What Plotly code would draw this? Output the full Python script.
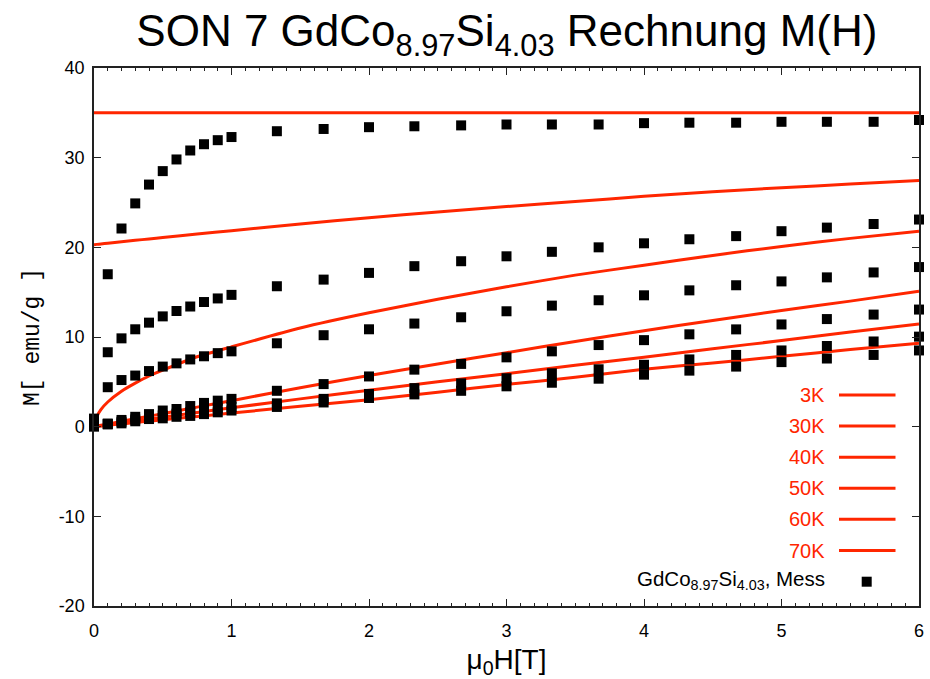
import plotly.graph_objects as go

# ---- measured magnetisation M(H), one list per temperature ----
H_mess = [0, 0.1, 0.2, 0.3, 0.4, 0.5, 0.6, 0.7, 0.8, 0.9, 1.0, 1.33, 1.67,
          2.0, 2.33, 2.67, 3.0, 3.33, 3.67, 4.0, 4.33, 4.67, 5.0, 5.33, 5.67, 6.0]

M_mess_3K = [0.9, 17.0, 22.1, 24.9, 27.0, 28.5, 29.8, 30.8, 31.5, 31.95, 32.3, 32.95, 33.2,
             33.4, 33.5, 33.6, 33.7, 33.7, 33.7, 33.85, 33.9, 33.9, 34.0, 34.0, 34.0, 34.2]
M_mess_30K = [0.6, 8.3, 9.85, 10.86, 11.6, 12.3, 12.9, 13.4, 13.9, 14.3, 14.7, 15.66, 16.4,
              17.15, 17.9, 18.45, 19.0, 19.5, 20.0, 20.45, 20.9, 21.25, 21.8, 22.2, 22.6, 23.1]
M_mess_40K = [0.4, 4.4, 5.2, 5.7, 6.2, 6.7, 7.06, 7.5, 7.85, 8.2, 8.4, 9.3, 10.2,
              10.86, 11.5, 12.2, 12.87, 13.5, 14.1, 14.65, 15.2, 15.77, 16.2, 16.65, 17.2, 17.8]
M_mess_50K = [0.2, 0.35, 0.75, 1.1, 1.4, 1.8, 1.97, 2.3, 2.65, 2.9, 3.1, 4.0, 4.75,
              5.6, 6.36, 7.0, 7.73, 8.4, 9.1, 9.65, 10.3, 10.85, 11.4, 12.0, 12.5, 13.06]
M_mess_60K = [0.1, 0.3, 0.55, 0.8, 1.05, 1.25, 1.45, 1.6, 1.85, 2.05, 2.2, 2.6, 3.1,
              3.65, 4.3, 4.83, 5.4, 5.95, 6.4, 6.9, 7.5, 8.0, 8.5, 9.0, 9.5, 10.04]
M_mess_70K = [0.0, 0.25, 0.37, 0.6, 0.85, 0.93, 1.1, 1.2, 1.4, 1.6, 1.8, 2.2, 2.7,
              3.2, 3.6, 4.0, 4.5, 4.9, 5.35, 5.8, 6.25, 6.7, 7.2, 7.6, 8.0, 8.5]

# ---- calculated curves (Rechnung) ----
H_calc = [0, 0.02, 0.05, 0.1, 0.2, 0.3, 0.4, 0.5, 0.75, 1.0, 1.5, 2.0, 2.5, 3.0, 3.5,
          4.0, 4.5, 5.0, 5.5, 6.0]

M_calc_3K = [35.0] * len(H_calc)
M_calc_30K = [20.3, 20.33, 20.38, 20.46, 20.62, 20.78, 20.94, 21.1, 21.48, 21.85, 22.6, 23.3,
              23.95, 24.55, 25.1, 25.7, 26.2, 26.65, 27.05, 27.45]
M_calc_40K = [0.0, 1.1, 1.9, 2.75, 3.95, 4.85, 5.65, 6.3, 7.8, 8.9, 11.0, 12.7,
              14.2, 15.6, 16.9, 18.0, 19.1, 20.1, 21.0, 21.8]
M_calc_50K = [0.0, 0.06, 0.15, 0.3, 0.6, 0.88, 1.17, 1.45, 2.18, 2.9, 4.35, 5.7,
              7.0, 8.25, 9.5, 10.7, 11.85, 12.95, 14.0, 15.1]
M_calc_60K = [0.0, 0.04, 0.1, 0.21, 0.42, 0.63, 0.84, 1.05, 1.58, 2.1, 3.1, 4.05,
              5.0, 5.9, 6.85, 7.75, 8.7, 9.6, 10.55, 11.45]
M_calc_70K = [0.0, 0.03, 0.08, 0.16, 0.31, 0.46, 0.61, 0.76, 1.14, 1.52, 2.27, 3.0,
              3.85, 4.7, 5.5, 6.4, 7.1, 7.85, 8.6, 9.3]

temps = ["3K", "30K", "40K", "50K", "60K", "70K"]
calc = [M_calc_3K, M_calc_30K, M_calc_40K, M_calc_50K, M_calc_60K, M_calc_70K]
mess = [M_mess_3K, M_mess_30K, M_mess_40K, M_mess_50K, M_mess_60K, M_mess_70K]

mess_label = "GdCo<sub>8.97</sub>Si<sub>4.03</sub>, Mess"
x_ticks = [0, 1, 2, 3, 4, 5, 6]
y_ticks = [-20, -10, 0, 10, 20, 30, 40]

RED = "rgb(255,38,0)"
SANS = "Liberation Sans, Arial, sans-serif"

W, H = 930, 679
ML, MR, MT, MB = 94, 11, 68, 73

fig = go.Figure()

for t, m in zip(temps, calc):
    fig.add_trace(go.Scatter(x=H_calc, y=m, mode="lines", name=t,
                             line=dict(color=RED, width=3, shape="spline", smoothing=0.6),
                             showlegend=False))

for t, m in zip(temps, mess):
    fig.add_trace(go.Scatter(x=H_mess, y=m, mode="markers", name="Mess " + t,
                             marker=dict(symbol="square", size=10, color="black",
                                         line=dict(width=0)),
                             cliponaxis=False, showlegend=False))

# hand-made key: label on the left, sample on the right
pw, ph = W - ML - MR, H - MT - MB


def px_x(p):
    return (p - ML) / pw


def px_y(p):
    return (H - MB - p) / ph


annotations = []
shapes = []
row_y = [395, 426, 457.3, 488.3, 519.3, 550.5]
for t, yy in zip(temps, row_y):
    annotations.append(dict(text=t, x=px_x(827), y=px_y(yy), xref="paper", yref="paper",
                            xanchor="right", yanchor="middle", showarrow=False,
                            font=dict(family=SANS, size=20, color=RED)))
    shapes.append(dict(type="line", xref="paper", yref="paper",
                       x0=px_x(839), x1=px_x(895.5), y0=px_y(yy), y1=px_y(yy),
                       line=dict(color=RED, width=3)))
annotations.append(dict(text=mess_label, x=px_x(827), y=px_y(580), xref="paper", yref="paper",
                        xanchor="right", yanchor="middle", showarrow=False,
                        font=dict(family=SANS, size=20.5, color="black")))
shapes.append(dict(type="rect", xref="paper", yref="paper",
                   x0=px_x(861.7), x1=px_x(871.7), y0=px_y(586.7), y1=px_y(576.7),
                   fillcolor="black", line=dict(width=0)))

axis_common = dict(showline=True, linecolor="#222", linewidth=1.5, mirror="allticks",
                   ticks="inside", ticklen=7, tickwidth=1, tickcolor="#222",
                   showgrid=False, zeroline=False, automargin=False,
                   tickfont=dict(family=SANS, size=18, color="black"))

fig.update_layout(
    width=W, height=H,
    margin=dict(l=ML, r=MR, t=MT, b=MB, autoexpand=False),
    paper_bgcolor="white", plot_bgcolor="white",
    title=dict(text="SON 7 GdCo<sub>8.97</sub>Si<sub>4.03</sub> Rechnung M(H)",
               x=0.545, xanchor="center", y=0.977, yanchor="top", automargin=False,
               font=dict(family=SANS, size=44, color="black")),
    xaxis=dict(range=[0, 6], tickvals=x_ticks, ticklabelstandoff=8,
               minor=dict(dtick=0.1, ticks="inside", ticklen=3.5, tickcolor="#222"),
               title=dict(text="μ<sub>0</sub>H[T]", standoff=12,
                          font=dict(family=SANS, size=28, color="black")),
               **axis_common),
    yaxis=dict(range=[-20, 40], tickvals=y_ticks,
               ticktext=[str(v) for v in y_ticks], ticklabelstandoff=4,
               title=dict(text="M[ emu/g ]", standoff=13,
                          font=dict(family="Liberation Mono, Courier New, monospace",
                                    size=23, color="black")),
               **axis_common),
    annotations=annotations,
    shapes=shapes,
    showlegend=False,
)

fig.write_html("out.html")
